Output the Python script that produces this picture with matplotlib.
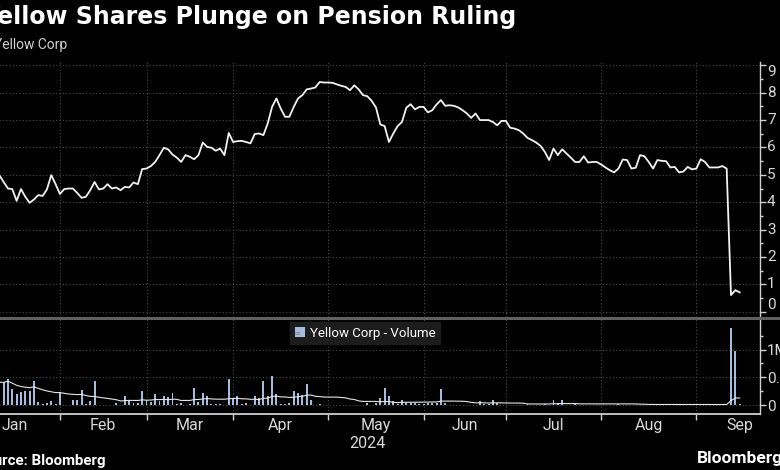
import numpy as np
import pandas as pd
import matplotlib
matplotlib.use("Agg")
import matplotlib.pyplot as plt
from matplotlib.patches import Patch
from matplotlib.lines import Line2D
from matplotlib.ticker import FixedLocator

plt.rcParams['font.family'] = ['Roboto', 'DejaVu Sans']

# ---------------- data ----------------
title = "Yellow Shares Plunge on Pension Ruling"
subtitle = "Yellow Corp"
source = "Source: Bloomberg"
series_name = "Yellow Corp - Volume"
year_label = "2024"
month_labels = ["Jan", "Feb", "Mar", "Apr", "May", "Jun", "Jul", "Aug", "Sep"]
market_holidays = ["2024-01-01", "2024-01-15", "2024-02-19", "2024-03-29",
                   "2024-05-27", "2024-06-19", "2024-07-04", "2024-09-02"]
first_date = "2024-01-11"

price = [
    4.99, 4.74, 4.50, 4.48, 4.05, 4.48, 4.20, 3.98, 4.10, 4.26,
    4.23, 4.47, 4.99, 4.66, 4.30, 4.48, 4.50, 4.50, 4.34, 4.16,
    4.20, 4.44, 4.74, 4.47, 4.50, 4.66, 4.50, 4.54, 4.44, 4.56,
    4.54, 4.72, 4.66, 5.21, 5.23, 5.32, 5.47, 5.72, 5.99, 5.93,
    5.74, 5.63, 5.47, 5.72, 5.66, 5.57, 5.72, 6.18, 6.02, 5.99,
    5.88, 5.96, 5.72, 6.53, 6.20, 6.23, 6.24, 6.20, 6.15, 6.49,
    6.51, 6.45, 6.88, 7.48, 7.79, 7.42, 7.12, 7.12, 7.48, 7.79,
    7.91, 8.12, 8.15, 8.19, 8.39, 8.37, 8.37, 8.36, 8.30, 8.25,
    8.21, 8.09, 8.27, 8.12, 7.91, 7.87, 7.70, 7.46, 6.84, 6.78,
    6.20, 6.51, 6.78, 6.93, 7.45, 7.58, 7.39, 7.48, 7.48, 7.28,
    7.36, 7.57, 7.73, 7.52, 7.54, 7.52, 7.46, 7.36, 7.24, 7.08,
    7.24, 7.00, 7.00, 7.00, 6.93, 6.81, 6.97, 6.97, 6.72, 6.69,
    6.63, 6.51, 6.35, 6.27, 6.18, 6.06, 5.84, 5.54, 5.96, 5.72,
    5.93, 5.78, 5.63, 5.47, 5.47, 5.68, 5.45, 5.47, 5.47, 5.38,
    5.27, 5.17, 5.09, 5.23, 5.56, 5.54, 5.23, 5.26, 5.72, 5.68,
    5.47, 5.23, 5.54, 5.51, 5.50, 5.27, 5.29, 5.09, 5.12, 5.29,
    5.20, 5.23, 5.57, 5.47, 5.27, 5.27, 5.27, 5.32, 5.23, 0.61,
    0.79, 0.71,
]

volume_m = [
    0.41, 0.41, 0.47, 0.29, 0.20, 0.23, 0.25, 0.25, 0.44, 0.06,
    0.02, 0.03, 0.07, 0.02, 0.23, 0.01, 0.01, 0.10, 0.09, 0.27,
    0.02, 0.07, 0.44, 0.01, 0.01, 0.01, 0.01, 0.03, 0.01, 0.17,
    0.09, 0.03, 0.04, 0.25, 0.10, 0.06, 0.20, 0.07, 0.17, 0.15,
    0.21, 0.02, 0.03, 0.01, 0.02, 0.31, 0.05, 0.22, 0.17, 0.02,
    0.02, 0.02, 0.01, 0.47, 0.12, 0.17, 0.02, 0.04, 0.01, 0.16,
    0.12, 0.43, 0.17, 0.52, 0.20, 0.02, 0.02, 0.04, 0.26, 0.21,
    0.18, 0.38, 0.09, 0.01, 0.02, 0.01, 0.01, 0.01, 0.01, 0.01,
    0.01, 0.01, 0.01, 0.01, 0.01, 0.03, 0.01, 0.04, 0.13, 0.31,
    0.16, 0.07, 0.02, 0.10, 0.03, 0.03, 0.04, 0.02, 0.02, 0.04,
    0.03, 0.04, 0.29, 0.03, 0.01, 0.01, 0.01, 0.01, 0.01, 0.01,
    0.01, 0.07, 0.02, 0.02, 0.10, 0.03, 0.01, 0.01, 0.01, 0.01,
    0.01, 0.01, 0.02, 0.01, 0.01, 0.01, 0.02, 0.01, 0.09, 0.03,
    0.10, 0.01, 0.01, 0.04, 0.01, 0.01, 0.01, 0.01, 0.01, 0.01,
    0.01, 0.01, 0.01, 0.02, 0.01, 0.01, 0.01, 0.01, 0.01, 0.01,
    0.01, 0.01, 0.01, 0.01, 0.01, 0.01, 0.01, 0.02, 0.01, 0.01,
    0.01, 0.01, 0.01, 0.02, 0.01, 0.01, 0.01, 0.01, 0.01, 1.39,
    0.97, 0.02,
]

price_ticks = [0, 1, 2, 3, 4, 5, 6, 7, 8, 9]
volume_ticks = [0, 0.5, 1.0]
volume_tick_labels = ["0", "0.5M", "1M"]

# ---------------- calendar (trading-day axis) ----------------
days = pd.bdate_range("2024-01-01", "2024-09-30", freq="C", holidays=market_holidays)
start = days.get_loc(pd.Timestamp(first_date))
x = np.arange(start, start + len(price))
month_starts = [int(np.where(days.month == m)[0][0]) for m in range(1, 10)]
month_edges = month_starts + [len(days)]
month_mids = [(month_edges[k] + month_edges[k + 1]) / 2 for k in range(9)]
vol_ma = pd.Series(volume_m).rolling(20, min_periods=1).mean().values

# ---------------- figure ----------------
W, H = 780, 470
fig = plt.figure(figsize=(W / 100, H / 100), dpi=100, facecolor="black")


def rect(l, t, r, b):
    return [l / W, 1 - b / H, (r - l) / W, (b - t) / H]


ax = fig.add_axes(rect(-31, 62, 760, 317))
axv = fig.add_axes(rect(-31, 319, 760, 414))

GRID = "#4d4d4d"
TXT = "#d9d9d9"
XMAX = 182.7

for a in (ax, axv):
    a.set_facecolor("black")
    a.set_xlim(0, XMAX)
    for s in ("left", "top"):
        a.spines[s].set_visible(False)
    a.spines["right"].set_color("#cfcfcf")
    a.spines["right"].set_linewidth(1.0)
    a.yaxis.set_ticks_position("right")
    for m in month_starts[1:]:
        a.axvline(m, color=GRID, lw=0.8, ls=(0, (1, 2)), zorder=0)

# main price panel
ax.spines["bottom"].set_visible(False)
ax.set_ylim(-0.19, 9.12)
for v in price_ticks:
    ax.axhline(v, color=GRID, lw=0.8, ls=(0, (1, 2)), zorder=0)
ax.plot(x, price, color="#f2f2f2", lw=1.3, zorder=3, solid_joinstyle="round")
ax.yaxis.set_major_locator(FixedLocator(price_ticks))
ax.yaxis.set_minor_locator(FixedLocator([t + 0.5 for t in price_ticks[:-1]]))
ax.set_yticklabels([str(t) for t in price_ticks])
ax.tick_params(axis="y", which="major", length=4, width=1, color="#cfcfcf",
               labelcolor=TXT, labelsize=11, pad=1, right=True, labelright=True)
ax.tick_params(axis="y", which="minor", length=2.5, width=1, color="#cfcfcf", right=True)
ax.set_xticks([])
for t in ax.yaxis.get_major_ticks():
    t.label2.set_verticalalignment("center")
ax.yaxis.get_major_ticks()[0].label2.set_verticalalignment("bottom")
ax.yaxis.get_major_ticks()[-1].label2.set_verticalalignment("top")

# volume panel
axv.set_ylim(-0.16, 1.55)
for v in volume_ticks:
    axv.axhline(v, color=GRID, lw=0.8, ls=(0, (1, 2)), zorder=0)
axv.bar(x, volume_m, width=0.45, color="#a3bde0", zorder=2)
axv.plot(x, vol_ma, color="#e6e6e6", lw=0.8, zorder=3)
axv.spines["bottom"].set_color("#cfcfcf")
axv.spines["bottom"].set_linewidth(1.3)
axv.yaxis.set_major_locator(FixedLocator(volume_ticks))
axv.yaxis.set_minor_locator(FixedLocator([0.25, 0.75, 1.25]))
axv.set_yticklabels(volume_tick_labels)
axv.tick_params(axis="y", which="major", length=4, width=1, color="#cfcfcf",
                labelcolor=TXT, labelsize=11, pad=1)
axv.tick_params(axis="y", which="minor", length=2.5, width=1, color="#cfcfcf")

axv.xaxis.set_major_locator(FixedLocator(month_starts[1:]))
axv.xaxis.set_minor_locator(FixedLocator(month_mids))
axv.set_xticklabels([], minor=False)
axv.set_xticklabels(month_labels, minor=True)
axv.tick_params(axis="x", which="major", length=4, width=1, color="#cfcfcf", direction="out")
axv.tick_params(axis="x", which="minor", length=0, labelcolor=TXT, labelsize=11.5, pad=3)

# separator between panels
fig.add_artist(Line2D([0, 1], [1 - 318 / H, 1 - 318 / H], transform=fig.transFigure,
                      color="#606060", lw=2.2))

# legend
leg = axv.legend([Patch(facecolor="#a3bde0", edgecolor="none")], [series_name],
                 loc="upper left", bbox_to_anchor=(290 / W, 1 - 322 / H),
                 bbox_transform=fig.transFigure, frameon=True, fancybox=False,
                 facecolor="#1c1c1c", edgecolor="#1c1c1c", framealpha=1,
                 handlelength=0.75, handleheight=0.75, handletextpad=0.4,
                 borderpad=0.35, fontsize=9.5, labelcolor="white", borderaxespad=0)
leg.set_zorder(5)
fig.text(297 / W, 1 - 334 / H, "\u2261", color="#8a8a8a", fontsize=6,
         ha="center", va="center", zorder=6)

# texts
fig.text(-18 / W, 1 - 17 / H, title, color="white", fontsize=17, fontweight="bold",
         family="DejaVu Sans", ha="left", va="center")
fig.text(-6 / W, 1 - 45 / H, subtitle, color="#d0d0d0", fontsize=10, ha="left", va="center")
fig.text(367 / W, 1 - 443 / H, year_label, color=TXT, fontsize=11.5, ha="center", va="center")
fig.text(105 / W, 1 - 461 / H, source, color="white", fontsize=10.8, fontweight="bold",
         ha="right", va="center")
fig.text(697 / W, 1 - 459 / H, "Bloomberg", color="white", fontsize=12.5, fontweight="bold",
         ha="left", va="center")

fig.savefig("out.png", dpi=100, facecolor="black")
